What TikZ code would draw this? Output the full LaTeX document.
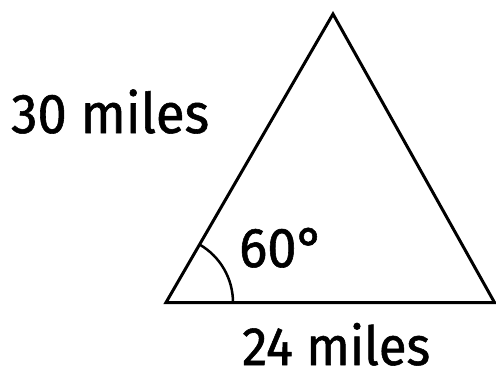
\documentclass[tikz,border=0pt]{standalone}
\usepackage{fontspec}
\setmainfont{Fira Sans}[FakeStretch=0.94,FakeBold=1]
\begin{document}
\begin{tikzpicture}[x=1pt,y=-1pt,
  side/.style={line width=3pt,line join=miter},
  lbl/.style={font=\fontsize{56}{64}\selectfont,inner sep=0pt,anchor=base west}]
\useasboundingbox (0,0) rectangle (496,381);
\coordinate (A) at (166,302.5);
\coordinate (B) at (333,14);
\coordinate (C) at (494.5,302.5);
\draw[side] (A) -- (B) -- (C) -- cycle;
\draw[line width=2.5pt] ([shift={(0:67)}]A) arc[start angle=0,end angle=-59.9,radius=67];
\node[lbl] (s1) at (11,133) {30 miles};
\node[lbl,font=\fontsize{54}{62}\selectfont] (s2) at (242,365) {24 miles};
\node[lbl] (ang) at (239,267) {60°};
\end{tikzpicture}
\end{document}
